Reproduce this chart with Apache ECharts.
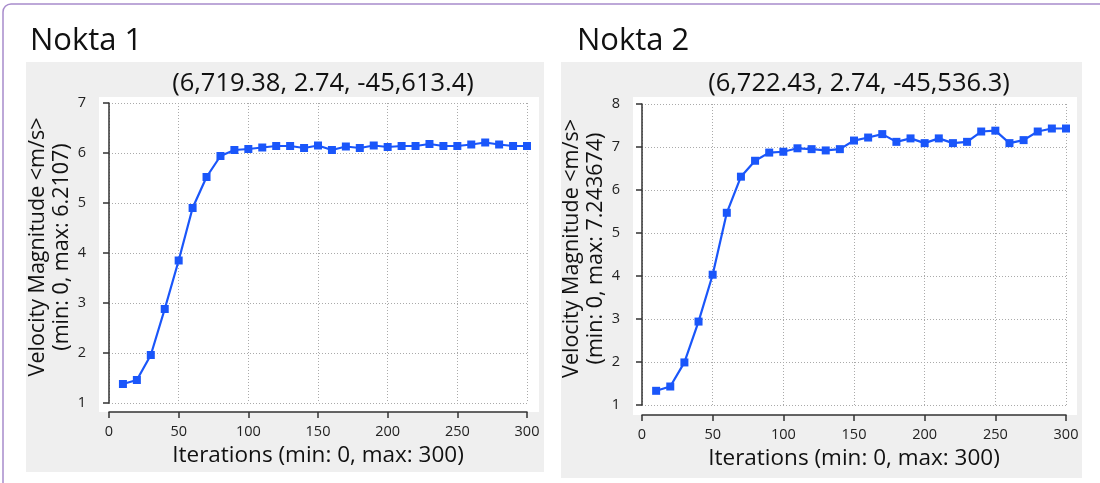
<!DOCTYPE html>
<html>
<head>
<meta charset="utf-8">
<script src="https://cdn.jsdelivr.net/npm/echarts@6/dist/echarts.min.js"></script>
<style>
  html, body { margin: 0; padding: 0; background: #ffffff; }
  #chart { width: 1100px; height: 483px; }
</style>
</head>
<body>
<div id="chart"></div>
<script>
// ---- data ----
const iterations = [10,20,30,40,50,60,70,80,90,100,110,120,130,140,150,160,170,180,190,200,210,220,230,240,250,260,270,280,290,300];
const nokta1Values = [1.38,1.46,1.96,2.88,3.85,4.9,5.52,5.94,6.06,6.08,6.11,6.14,6.14,6.1,6.15,6.06,6.13,6.1,6.15,6.12,6.14,6.14,6.18,6.14,6.14,6.17,6.21,6.17,6.14,6.14];
const nokta2Values = [1.33,1.43,1.99,2.94,4.03,5.47,6.31,6.68,6.87,6.89,6.97,6.95,6.92,6.95,7.15,7.22,7.30,7.12,7.20,7.09,7.20,7.09,7.12,7.36,7.38,7.09,7.16,7.36,7.43,7.43];
const panelTitles = ['Nokta 1', 'Nokta 2'];
const plotTitles = ['(6,719.38, 2.74, -45,613.4)', '(6,722.43, 2.74, -45,536.3)'];
const yNames = ['Velocity Magnitude <m/s>\n(min: 0, max: 6.2107)', 'Velocity Magnitude <m/s>\n(min: 0, max: 7.243674)'];
const xName = 'Iterations (min: 0, max: 300)';
const yRanges = [[1, 7], [1, 8]];
const xRange = [0, 300];

const FONT = '"Open Sans", "Noto Sans", sans-serif';
const BLUE = '#1a56fa';
const chart = echarts.init(document.getElementById('chart'), null, { renderer: 'canvas' });

const grids = [
  { left: 109, top: 103, width: 418, height: 300 },
  { left: 642, top: 104, width: 424, height: 301 }
];

function xAxisCfg(i, offset) {
  return {
    type: 'value', gridIndex: i, min: xRange[0], max: xRange[1], interval: 50,
    offset: offset,
    name: xName, nameLocation: 'middle', nameGap: 29,
    nameTextStyle: { fontFamily: FONT, fontSize: 22.5, color: '#111' },
    axisLine: { show: true, lineStyle: { color: '#333', width: 1.5 } },
    axisTick: { show: true, length: 6, lineStyle: { color: '#333', width: 1.5 } },
    axisLabel: { fontFamily: FONT, fontSize: 14.5, color: '#222', margin: 12 },
    splitLine: { show: true, lineStyle: { color: '#aaaaaa', type: [1, 2], width: 1 } }
  };
}
function yAxisCfg(i, offset) {
  return {
    type: 'value', gridIndex: i, min: yRanges[i][0], max: yRanges[i][1], interval: 1,
    offset: offset,
    name: yNames[i], nameLocation: 'middle', nameGap: 25, nameRotate: 90,
    nameTextStyle: { fontFamily: FONT, fontSize: 21.5, color: '#111', lineHeight: 24, padding: [0, 0, 0, 12] },
    axisLine: { show: true, lineStyle: { color: '#333', width: 1.5 } },
    axisTick: { show: true, length: 6, lineStyle: { color: '#333', width: 1.5 } },
    axisLabel: { fontFamily: FONT, fontSize: 14.5, color: '#222', margin: 13 },
    splitLine: { show: true, lineStyle: { color: '#aaaaaa', type: [1, 2], width: 1 } }
  };
}

function series(i, vals) {
  return {
    type: 'line', xAxisIndex: i, yAxisIndex: i,
    data: iterations.map((x, k) => [x, vals[k]]),
    symbol: 'rect', symbolSize: 8, showSymbol: true,
    lineStyle: { color: BLUE, width: 2.2 },
    itemStyle: { color: BLUE },
    animation: false
  };
}

const option = {
  animation: false,
  backgroundColor: '#ffffff',
  graphic: [
    { type: 'rect', z: -10, shape: { x: 3, y: 4, width: 1200, height: 600, r: 8 },
      style: { fill: '#ffffff', stroke: '#a88ccc', lineWidth: 1.5 } },
    { type: 'rect', z: -9, shape: { x: 26, y: 62, width: 518, height: 410 }, style: { fill: '#efefef' } },
    { type: 'rect', z: -9, shape: { x: 561, y: 62, width: 521, height: 416 }, style: { fill: '#efefef' } },
    { type: 'rect', z: -8, shape: { x: 99, y: 97, width: 440, height: 315 }, style: { fill: '#ffffff' } },
    { type: 'rect', z: -8, shape: { x: 633, y: 97, width: 444, height: 318 }, style: { fill: '#ffffff' } }
  ],
  title: [
    { text: panelTitles[0], left: 25, top: 21, textStyle: { fontFamily: FONT, fontSize: 31, fontWeight: 'normal', color: '#111' } },
    { text: panelTitles[1], left: 572, top: 21, textStyle: { fontFamily: FONT, fontSize: 31, fontWeight: 'normal', color: '#111' } },
    { text: plotTitles[0], left: 318, top: 66, textAlign: 'center', textStyle: { fontFamily: FONT, fontSize: 25.5, fontWeight: 'normal', color: '#111' } },
    { text: plotTitles[1], left: 854, top: 66, textAlign: 'center', textStyle: { fontFamily: FONT, fontSize: 25.5, fontWeight: 'normal', color: '#111' } }
  ],
  grid: grids,
  xAxis: [xAxisCfg(0, 9), xAxisCfg(1, 10)],
  yAxis: [yAxisCfg(0, 10), yAxisCfg(1, 9)],
  series: [series(0, nokta1Values), series(1, nokta2Values)]
};
chart.setOption(option);
</script>
</body>
</html>
